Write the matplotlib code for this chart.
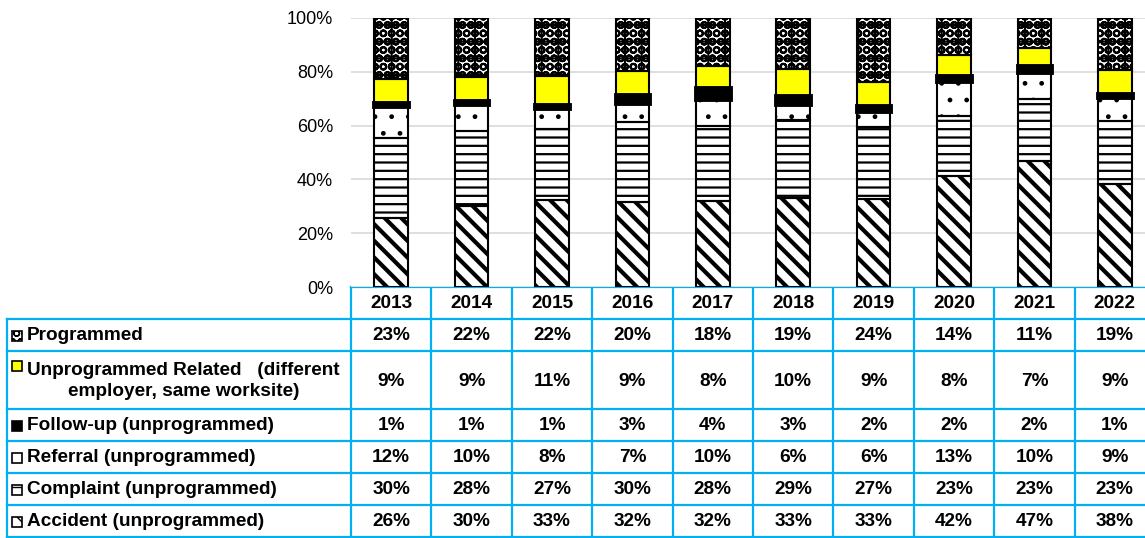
import numpy as np
import matplotlib.pyplot as plt
from matplotlib.patches import Rectangle

plt.rcParams['font.family'] = ['Liberation Sans', 'DejaVu Sans']

# Data (share of inspections, %)
years = ['2013', '2014', '2015', '2016', '2017', '2018', '2019', '2020', '2021', '2022']
programmed = [23, 22, 22, 20, 18, 19, 24, 14, 11, 19]
unprog_related = [9, 9, 11, 9, 8, 10, 9, 8, 7, 9]
follow_up = [1, 1, 1, 3, 4, 3, 2, 2, 2, 1]
referral = [12, 10, 8, 7, 10, 6, 6, 13, 10, 9]
complaint = [30, 28, 27, 30, 28, 29, 27, 23, 23, 23]
accident = [26, 30, 33, 32, 32, 33, 33, 42, 47, 38]

labels = ['Programmed',
          'Unprogrammed Related   (different\nemployer, same worksite)',
          'Follow-up (unprogrammed)',
          'Referral (unprogrammed)',
          'Complaint (unprogrammed)',
          'Accident (unprogrammed)']
series = [programmed, unprog_related, follow_up, referral, complaint, accident]

# face colour, hatch, hatch linewidth for each series (same order as labels)
styles = [('white', 'OO+', 1.5),
          ('#ffff00', '', 1.0),
          ('black', '', 1.0),
          ('white', '.', 1.0),
          ('white', '--', 1.6),
          ('white', '\\\\', 3.0)]

W, H = 1145, 538
fig = plt.figure(figsize=(W / 100, H / 100), dpi=100)

# chart area lines up with the table columns
left, right = 351, 1155
top, base = 18, 287
ax = fig.add_axes([left / W, 1 - base / H, (right - left) / W, (base - top) / H])

data = np.array(series, dtype=float)
pct = data / data.sum(axis=0) * 100
x = np.arange(len(years))
bottom = np.zeros(len(years))
for i in range(len(series) - 1, -1, -1):
    fc, hatch, hlw = styles[i]
    with plt.rc_context({'hatch.linewidth': hlw}):
        ax.bar(x, pct[i], 0.42, bottom=bottom, color=fc, edgecolor='black',
               hatch=hatch, linewidth=0, zorder=2)
    lw = 3.5 if i == 2 else 1.5
    ax.bar(x, pct[i], 0.42, bottom=bottom, fill=False, edgecolor='black',
           linewidth=lw, zorder=3)
    bottom += pct[i]

ax.set_xlim(-0.5, len(years) - 0.5)
ax.set_ylim(0, 100)
ax.set_yticks(np.arange(0, 101, 20))
ax.set_yticklabels([f'{v}%' for v in range(0, 101, 20)], fontsize=13)
ax.set_xticks([])
ax.tick_params(axis='y', length=0, pad=13)
ax.yaxis.grid(True, color='#d9d9d9', linewidth=1.2, zorder=0)
ax.set_axisbelow(True)
for s in ax.spines.values():
    s.set_visible(False)

# data table underneath, drawn in pixel coordinates
tax = fig.add_axes([0, 0, 1, 1], zorder=-1)
tax.set_xlim(0, W)
tax.set_ylim(H, 0)
tax.axis('off')

blue = '#00b0f0'
row_edges = [287, 319, 351, 409, 441, 473, 505, 537]
label_left = 7
col_w = (right - left) / len(years)
col_edges = [left + k * col_w for k in range(len(years) + 1)]

tax.plot([left, right], [row_edges[0]] * 2, color=blue, lw=1.6)
for yy in row_edges[1:]:
    tax.plot([label_left, right], [yy, yy], color=blue, lw=1.6)
tax.plot([label_left] * 2, [row_edges[1], row_edges[-1]], color=blue, lw=1.6)
for xx in col_edges:
    tax.plot([xx, xx], [row_edges[0], row_edges[-1]], color=blue, lw=1.6)

tfont = dict(fontsize=13.7, fontweight='bold', color='black')
for j, yr in enumerate(years):
    cx = (col_edges[j] + col_edges[j + 1]) / 2
    tax.text(cx, (row_edges[0] + row_edges[1]) / 2 + 1, yr, ha='center', va='center', **tfont)

for i, lab in enumerate(labels):
    y0, y1 = row_edges[i + 1], row_edges[i + 2]
    cy = (y0 + y1) / 2 + 1
    tax.text(27, cy, lab, ha='left', va='center', multialignment='center',
             linespacing=1.35, **tfont)
    ky = y0 + 15 - 5 if '\n' in lab else cy - 5.5
    fc, hatch, hlw = styles[i]
    with plt.rc_context({'hatch.linewidth': 1.0}):
        tax.add_patch(Rectangle((12, ky), 10, 10, facecolor=fc, edgecolor='black',
                                hatch=hatch, linewidth=1.2))
    for j in range(len(years)):
        cx = (col_edges[j] + col_edges[j + 1]) / 2
        tax.text(cx, cy, f'{series[i][j]}%', ha='center', va='center', **tfont)

fig.savefig('out.png', dpi=100)
